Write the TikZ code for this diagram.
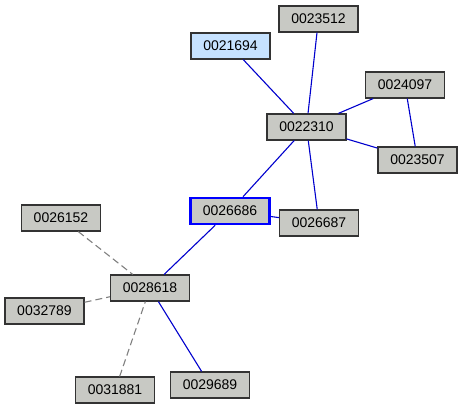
\documentclass[tikz,border=0pt]{standalone}
\usepackage{fontspec}
\setmainfont{Liberation Sans}
\usetikzlibrary{arrows.meta,positioning}

\definecolor{boxgray}{RGB}{200,201,196}
\definecolor{boxblue}{RGB}{198,226,255}
\definecolor{edgeblue}{RGB}{0,0,205}

\begin{document}
\begin{tikzpicture}[
    x=1pt, y=-1pt,
    font=\fontsize{14}{16}\selectfont,
    % node styles
    paper/.style   = {draw=black!80, line width=1.2pt, fill=boxgray,
                      minimum width=79pt, minimum height=26pt,
                      inner sep=0pt, anchor=center},
    seed/.style    = {paper, fill=boxblue},
    focus/.style   = {paper, draw=blue, line width=2.6pt},
    % edges
    cite/.style    = {edgeblue, line width=1.1pt},
    weak/.style    = {gray, line width=1.1pt, dash pattern=on 7pt off 4pt}
  ]
\useasboundingbox (0,0) rectangle (462,410);

% ============================================================
% Upper cluster
% ============================================================
\node[paper] (p23512) at (318.5,19)  {0023512};
\node[seed]  (p21694) at (230.5,46)  {0021694};
\node[paper] (p24097) at (405,85)    {0024097};
\node[paper] (p22310) at (306.5,127) {0022310};
\node[paper] (p23507) at (417.5,160) {0023507};
\node[focus] (p26686) at (230,211)   {0026686};
\node[paper] (p26687) at (319,223)   {0026687};

% ============================================================
% Lower cluster
% ============================================================
\node[paper] (p26152) at (61,218)    {0026152};
\node[paper] (p28618) at (150,288)   {0028618};
\node[paper] (p32789) at (44.5,311)  {0032789};
\node[paper] (p31881) at (115,390)   {0031881};
\node[paper] (p29689) at (210,385)   {0029689};

% Edges
\draw[cite] (p21694) -- (p22310);
\draw[cite] (p23512) -- (p22310);
\draw[cite] (p24097) -- (p22310);
\draw[cite] (p24097) -- (p23507);
\draw[cite] (p22310) -- (p23507);
\draw[cite] (p22310) -- (p26686);
\draw[cite] (p22310) -- (p26687);
\draw[cite] (p26686) -- (p26687);
\draw[cite] (p26686) -- (p28618);
\draw[cite] (p28618) -- (p29689);
\draw[weak] (p26152) -- (p28618);
\draw[weak] (p32789) -- (p28618);
\draw[weak] (p31881) -- (p28618);

\end{tikzpicture}
\end{document}
